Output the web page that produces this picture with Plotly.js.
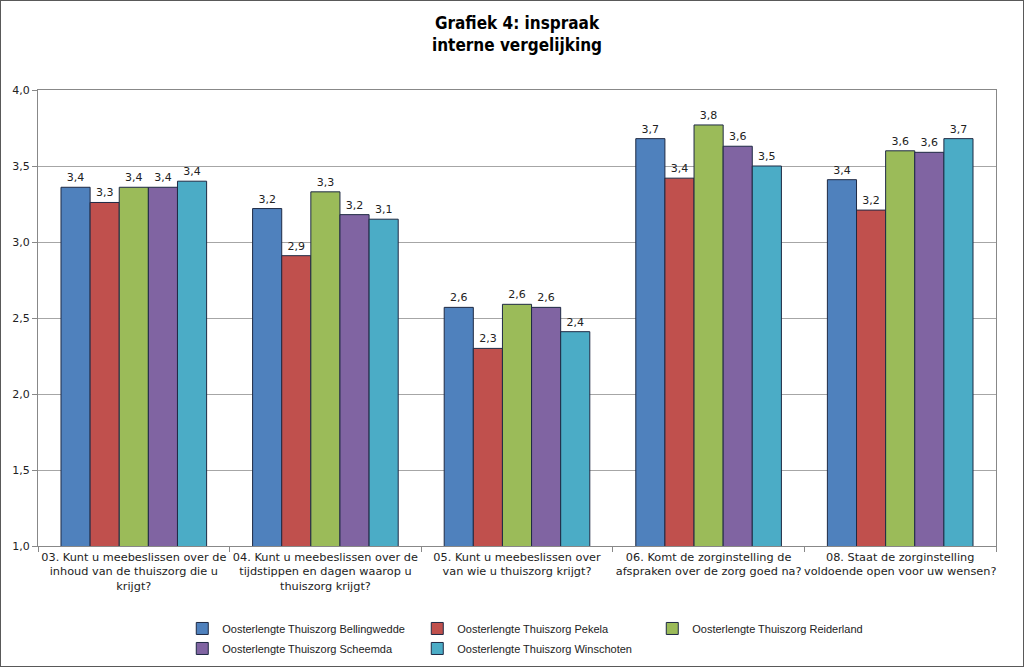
<!DOCTYPE html>
<html>
<head>
<meta charset="utf-8">
<script src="https://cdn.plot.ly/plotly-3.0.1.min.js"></script>
<style>
  html, body { margin: 0; padding: 0; background: #fff; }
  #chart { position: absolute; left: 0; top: 0; width: 1024px; height: 667px; }
  #frame { position: absolute; left: 0; top: 0; width: 1022px; height: 665px; border: 1px solid #595959; pointer-events: none; }
</style>
</head>
<body>
<div id="chart"></div>
<div id="frame"></div>
<script>
const categories = [
  "03. Kunt u meebeslissen over de<br>inhoud van de thuiszorg die u<br>krijgt?",
  "04. Kunt u meebeslissen over de<br>tijdstippen en dagen waarop u<br>thuiszorg krijgt?",
  "05. Kunt u meebeslissen over<br>van wie u thuiszorg krijgt?",
  "06. Komt de zorginstelling de<br>afspraken over de zorg goed na?",
  "08. Staat de zorginstelling<br>voldoende open voor uw wensen?"
];
const seriesNames = [
  "Oosterlengte Thuiszorg Bellingwedde",
  "Oosterlengte Thuiszorg Pekela",
  "Oosterlengte Thuiszorg Reiderland",
  "Oosterlengte Thuiszorg Scheemda",
  "Oosterlengte Thuiszorg Winschoten"
];
const bellingwedde = [3.36, 3.22, 2.57, 3.68, 3.41];
const pekela       = [3.26, 2.91, 2.30, 3.42, 3.21];
const reiderland   = [3.36, 3.33, 2.59, 3.77, 3.60];
const scheemda     = [3.36, 3.18, 2.57, 3.63, 3.59];
const winschoten   = [3.40, 3.15, 2.41, 3.50, 3.68];
const tickVals = [1.0, 1.5, 2.0, 2.5, 3.0, 3.5, 4.0];

const seriesValues = [bellingwedde, pekela, reiderland, scheemda, winschoten];
const colors = ["#4f81bd", "#c0504d", "#9bbb59", "#8064a2", "#4bacc6"];
const legendIds = ["legend", "legend", "legend", "legend2", "legend2"];

const traces = seriesValues.map((vals, i) => ({
  type: "bar",
  name: seriesNames[i],
  x: categories,
  y: vals,
  marker: { color: colors[i], line: { color: "#1f2a44", width: 1 } },
  text: vals.map(v => v.toFixed(1).replace(".", ",")),
  textposition: "outside",
  textangle: 0,
  constraintext: "none",
  cliponaxis: false,
  textfont: { family: "DejaVu Sans, Verdana, sans-serif", size: 11, color: "#222" },
  legend: legendIds[i],
  hoverinfo: "skip"
}));

const legendCommon = {
  orientation: "h",
  xref: "container",
  yref: "container",
  xanchor: "left",
  yanchor: "top",
  x: 0.178,
  entrywidth: 190,
  font: { family: "Liberation Sans, Arial, sans-serif", size: 11, color: "#222" },
  bgcolor: "rgba(0,0,0,0)",
  itemclick: false,
  traceorder: "normal"
};

const layout = {
  width: 1024,
  height: 667,
  margin: { l: 38, r: 28, t: 90, b: 121 },
  paper_bgcolor: "#fff",
  plot_bgcolor: "#fff",
  separators: ",.",
  barmode: "group",
  bargap: 0.24,
  bargroupgap: 0,
  title: {
    text: "<b>Grafiek 4: inspraak<br>interne vergelijking</b>",
    font: { family: "DejaVu Sans Condensed, Tahoma, DejaVu Sans, sans-serif", size: 17, color: "#000" },
    x: 0.5, xref: "paper", xanchor: "center",
    y: 0.957, yref: "container", yanchor: "top"
  },
  xaxis: {
    type: "category",
    tickson: "boundaries",
    ticks: "outside",
    ticklen: 5,
    tickcolor: "#888",
    showline: true,
    linecolor: "#888",
    mirror: true,
    tickfont: { family: "DejaVu Sans, Verdana, sans-serif", size: 11.3, color: "#222" },
    tickangle: 0,
    automargin: false
  },
  yaxis: {
    range: [1, 4],
    tickvals: tickVals,
    tickformat: ".1f",
    ticks: "outside",
    ticklen: 5,
    tickcolor: "#888",
    showline: true,
    linecolor: "#888",
    mirror: true,
    gridcolor: "#a6a6a6",
    gridwidth: 1,
    zeroline: false,
    tickfont: { family: "DejaVu Sans, Verdana, sans-serif", size: 11, color: "#222" },
    automargin: false
  },
  legend: Object.assign({}, legendCommon, { y: 0.0795 }),
  legend2: Object.assign({}, legendCommon, { y: 0.0495 }),
  showlegend: true
};

Plotly.newPlot("chart", traces, layout, { displayModeBar: false, staticPlot: true });
</script>
</body>
</html>
